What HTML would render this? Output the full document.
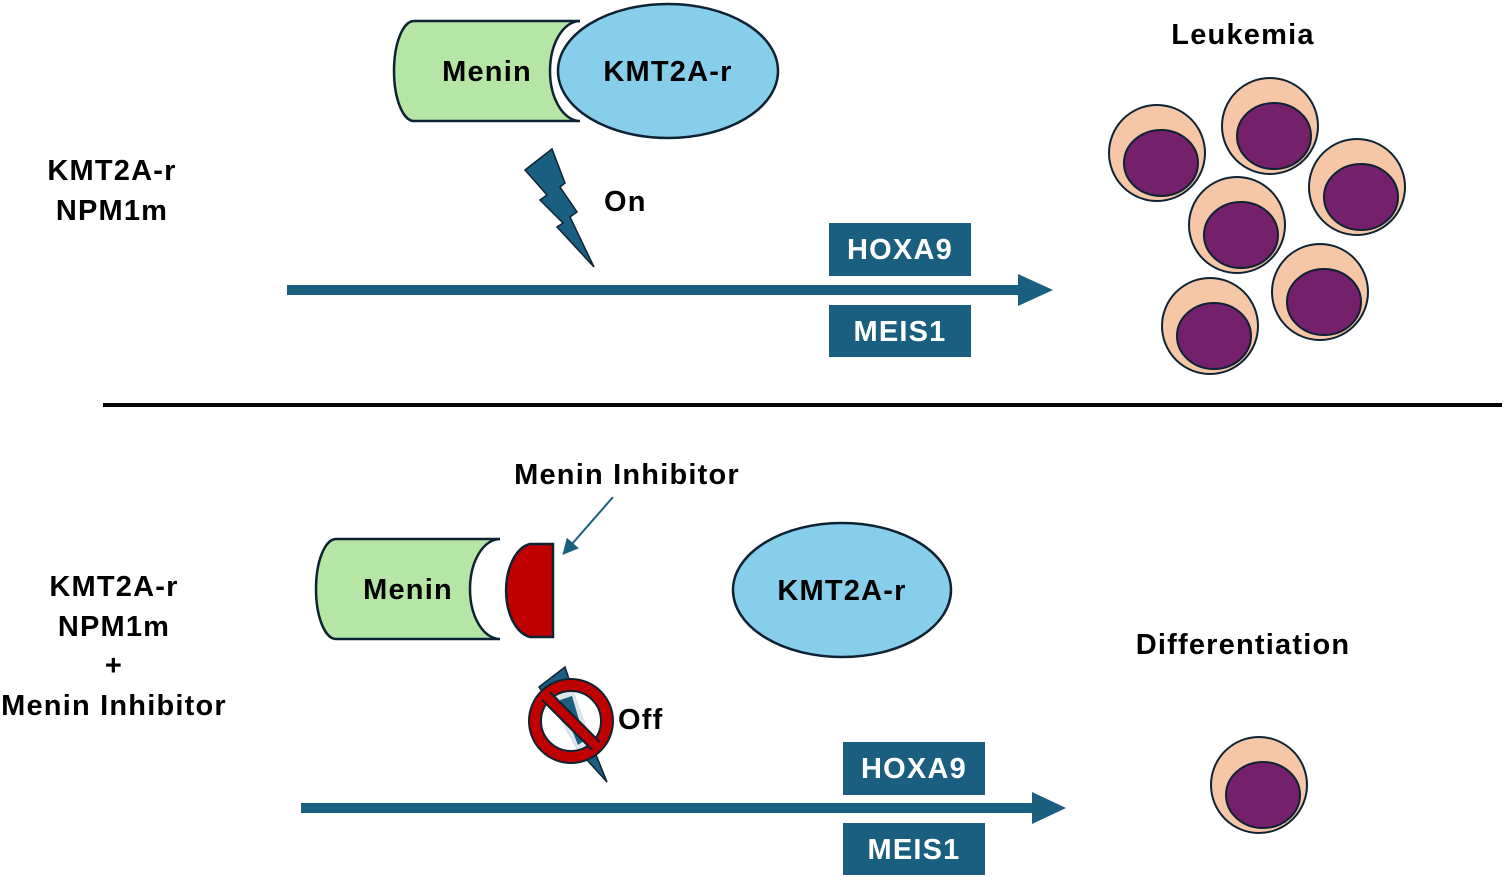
<!DOCTYPE html>
<html><head><style>body{margin:0;background:#fff} text{letter-spacing:1.2px}</style></head><body>
<svg width="1505" height="879" viewBox="0 0 1505 879" xmlns="http://www.w3.org/2000/svg" font-family="Liberation Sans, sans-serif" font-weight="bold">
<defs><marker id="ah" markerWidth="8" markerHeight="8" refX="6" refY="4" orient="auto"><path d="M0,0 L8,4 L0,8 z" fill="#1a5f80"/></marker></defs>
<path d="M580,21 L414,21 A20,50 0 0 0 414,121 L580,121 A30,50 0 0 1 580,21 Z" fill="#b5e6a5" stroke="#0d2233" stroke-width="2.5"/>
<ellipse cx="668" cy="71" rx="110" ry="67" fill="#87ceeb" stroke="#0d2233" stroke-width="2.5"/>
<text x="487" y="81" font-size="29" text-anchor="middle">Menin</text>
<text x="668" y="81" font-size="29" text-anchor="middle">KMT2A-r</text>
<polygon points="525,170 552,149 565,183 560,187 577,212 570,217 594,267 557,227 563,223 540,200 547,195" fill="#1a5f80" stroke="#0d2233" stroke-width="1.5"/>
<text x="604" y="211" font-size="29">On</text>
<text x="112" y="180" font-size="29" text-anchor="middle">KMT2A-r</text>
<text x="112" y="220" font-size="29" text-anchor="middle">NPM1m</text>
<rect x="287" y="285" width="735" height="10" fill="#1a5f80"/>
<polygon points="1018,274 1053,290 1018,306" fill="#1a5f80"/>
<rect x="829" y="223" width="142" height="53" fill="#1a5f80"/>
<text x="900" y="259" font-size="29" fill="#fff" text-anchor="middle">HOXA9</text>
<rect x="829" y="305" width="142" height="52" fill="#1a5f80"/>
<text x="900" y="341" font-size="29" fill="#fff" text-anchor="middle">MEIS1</text>
<text x="1243" y="44" font-size="29" text-anchor="middle">Leukemia</text>
<g stroke="#0d2233" stroke-width="2">
<circle cx="1157" cy="153" r="48" fill="#f5c7a7"/><ellipse cx="1161" cy="163" rx="37" ry="33" fill="#74206a"/>
<circle cx="1270" cy="126" r="48" fill="#f5c7a7"/><ellipse cx="1274" cy="136" rx="37" ry="33" fill="#74206a"/>
<circle cx="1357" cy="187" r="48" fill="#f5c7a7"/><ellipse cx="1361" cy="197" rx="37" ry="33" fill="#74206a"/>
<circle cx="1237" cy="225" r="48" fill="#f5c7a7"/><ellipse cx="1241" cy="235" rx="37" ry="33" fill="#74206a"/>
<circle cx="1320" cy="292" r="48" fill="#f5c7a7"/><ellipse cx="1324" cy="302" rx="37" ry="33" fill="#74206a"/>
<circle cx="1210" cy="326" r="48" fill="#f5c7a7"/><ellipse cx="1214" cy="336" rx="37" ry="33" fill="#74206a"/>
<circle cx="1259" cy="785" r="48" fill="#f5c7a7"/><ellipse cx="1263" cy="795" rx="37" ry="33" fill="#74206a"/>
</g>
<rect x="103" y="403" width="1399" height="4" fill="#000"/>
<text x="627" y="484" font-size="29" text-anchor="middle">Menin Inhibitor</text>
<line x1="613" y1="497" x2="565" y2="552" stroke="#1a5f80" stroke-width="2" marker-end="url(#ah)"/>
<path d="M500,539 L336,539 A20,50 0 0 0 336,639 L500,639 A30,50 0 0 1 500,539 Z" fill="#b5e6a5" stroke="#0d2233" stroke-width="2.5"/>
<path d="M553,544 L530,544 A28,47 0 0 0 530,637 L553,637 Z" fill="#c00000" stroke="#0d2233" stroke-width="2.5"/>
<text x="408" y="599" font-size="29" text-anchor="middle">Menin</text>
<ellipse cx="842" cy="590" rx="109" ry="67" fill="#87ceeb" stroke="#0d2233" stroke-width="2.5"/>
<text x="842" y="600" font-size="29" text-anchor="middle">KMT2A-r</text>
<text x="114" y="596" font-size="29" text-anchor="middle">KMT2A-r</text>
<text x="114" y="636" font-size="29" text-anchor="middle">NPM1m</text>
<text x="114" y="675" font-size="29" text-anchor="middle">+</text>
<text x="114" y="715" font-size="29" text-anchor="middle">Menin Inhibitor</text>
<polygon points="539,687 565,667 572,688 590,740 607,782 578,750 560,718" fill="#1a5f80" stroke="#0d2233" stroke-width="1.5"/>
<circle cx="571" cy="721" r="32" fill="#fff" fill-opacity="0.85"/>
<polygon points="560,700 572,696 585,740 578,745" fill="#1a5f80"/>
<circle cx="571" cy="721" r="36" fill="none" stroke="#0d2233" stroke-width="14"/>
<circle cx="571" cy="721" r="36" fill="none" stroke="#c00000" stroke-width="10"/>
<line x1="546" y1="696" x2="596" y2="746" stroke="#0d2233" stroke-width="13"/>
<line x1="546" y1="696" x2="596" y2="746" stroke="#c00000" stroke-width="9"/>
<text x="618" y="729" font-size="29">Off</text>
<rect x="301" y="803" width="735" height="10" fill="#1a5f80"/>
<polygon points="1032,792 1066,808 1032,824" fill="#1a5f80"/>
<rect x="843" y="742" width="142" height="53" fill="#1a5f80"/>
<text x="914" y="778" font-size="29" fill="#fff" text-anchor="middle">HOXA9</text>
<rect x="843" y="823" width="142" height="52" fill="#1a5f80"/>
<text x="914" y="859" font-size="29" fill="#fff" text-anchor="middle">MEIS1</text>
<text x="1243" y="654" font-size="29" text-anchor="middle">Differentiation</text>
</svg>
</body></html>
